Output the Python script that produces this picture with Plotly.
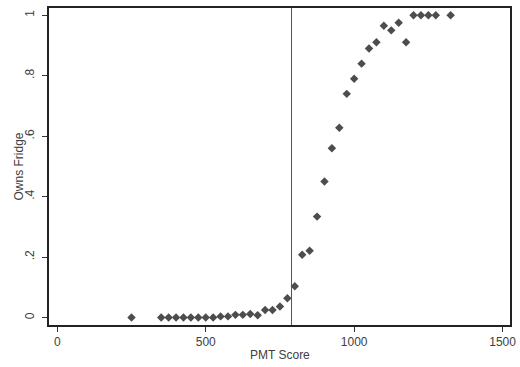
import plotly.graph_objects as go

pmt_score = [250, 350, 375, 400, 425, 450, 475, 500, 525, 550, 575, 600, 625, 650,
             675, 700, 725, 750, 775, 800, 825, 850, 875, 900, 925, 950, 975, 1000,
             1025, 1050, 1075, 1100, 1125, 1150, 1175, 1200, 1225, 1250, 1275, 1325]
owns_fridge = [0.0, 0.0, 0.0, 0.0, 0.0, 0.0, 0.0, 0.0, 0.0, 0.004, 0.004, 0.009, 0.009, 0.012,
               0.008, 0.025, 0.025, 0.037, 0.064, 0.104, 0.208, 0.221, 0.334, 0.450, 0.560,
               0.628, 0.740, 0.790, 0.840, 0.890, 0.911, 0.965, 0.950, 0.975, 0.911,
               1.0, 1.0, 1.0, 1.0, 1.0]
cutoff = 789
x_ticks = [0, 500, 1000, 1500]
y_ticks = [0, 0.2, 0.4, 0.6, 0.8, 1]
y_tick_labels = ["0", ".2", ".4", ".6", ".8", "1"]
x_title = "PMT Score"
y_title = "Owns Fridge"

fig = go.Figure()
fig.add_trace(go.Scatter(
    x=pmt_score, y=owns_fridge, mode="markers",
    marker=dict(symbol="diamond", size=6.5, color="#4d4d4d"),
    showlegend=False,
))
fig.add_vline(x=cutoff, line=dict(color="#555555", width=1))

font = dict(family="Liberation Sans, Arial, sans-serif", size=12, color="#404040")
fig.update_layout(
    width=520, height=367,
    margin=dict(l=49, r=10, t=8, b=42),
    paper_bgcolor="white", plot_bgcolor="white",
    font=font,
    xaxis=dict(
        range=[-28, 1525], tickvals=x_ticks, showgrid=False, zeroline=False,
        showline=True, linecolor="#222222", linewidth=1.5, mirror=True,
        ticks="outside", ticklen=5, tickcolor="#333333", tickwidth=1,
        automargin=False,
    ),
    yaxis=dict(
        range=[-0.0245, 1.024], tickvals=y_ticks, ticktext=y_tick_labels,
        tickangle=-90, showgrid=False, zeroline=False,
        showline=True, linecolor="#222222", linewidth=1.5, mirror=True,
        ticks="outside", ticklen=5, tickcolor="#333333", tickwidth=1,
        automargin=False, ticklabelstandoff=3,
    ),
    annotations=[
        dict(text=x_title, xref="paper", yref="paper", x=0.5, y=0, yshift=-21,
             yanchor="top", showarrow=False, font=font),
        dict(text=y_title, xref="paper", yref="paper", x=0, y=0.5, xshift=-31,
             xanchor="center", textangle=-90, showarrow=False, font=font),
    ],
)
fig.write_html("out.html", config={"displayModeBar": False},
               post_script="document.body.style.margin='0';")
